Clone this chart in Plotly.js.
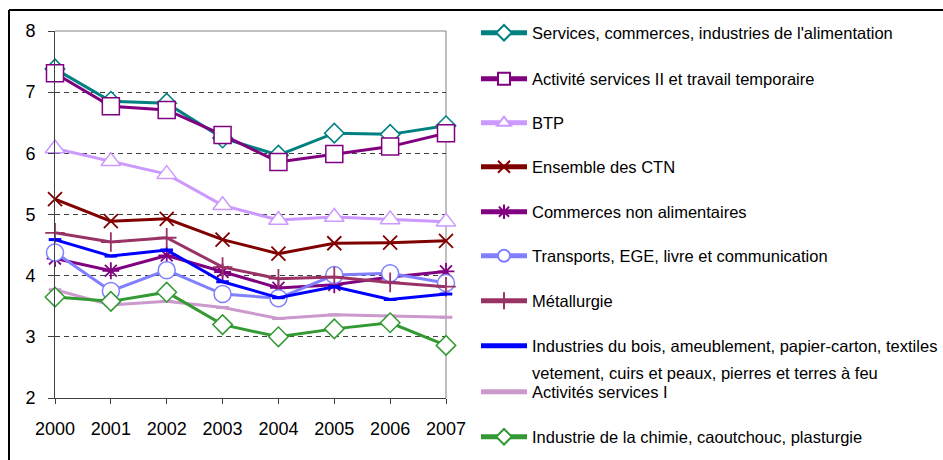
<!DOCTYPE html>
<html>
<head>
<meta charset="utf-8">
<script src="https://cdn.plot.ly/plotly-3.0.1.min.js"></script>
<style>
html,body{margin:0;padding:0;background:#fff;}
#chart{width:943px;height:460px;}
</style>
</head>
<body>
<div id="chart"></div>
<script>
const years = [2000, 2001, 2002, 2003, 2004, 2005, 2006, 2007];
const yTicks = [2, 3, 4, 5, 6, 7, 8];

const names = [
  "Services, commerces, industries de l'alimentation",
  "Activité services II et travail temporaire",
  "BTP",
  "Ensemble des CTN",
  "Commerces non alimentaires",
  "Transports, EGE, livre et communication",
  "Métallurgie",
  "Industries du bois, ameublement, papier-carton, textiles",
  "Activités services I",
  "Industrie de la chimie, caoutchouc, plasturgie"
];
const boisLine2 = "vetement, cuirs et peaux, pierres et terres à feu";

const servicesAlim   = [7.38, 6.85, 6.82, 6.25, 5.97, 6.33, 6.31, 6.45];
const servicesII     = [7.31, 6.77, 6.71, 6.30, 5.86, 5.99, 6.11, 6.33];
const btp            = [6.08, 5.87, 5.66, 5.15, 4.91, 4.96, 4.92, 4.88];
const ensembleCTN    = [5.25, 4.89, 4.93, 4.59, 4.36, 4.53, 4.54, 4.57];
const commercesNonAl = [4.28, 4.08, 4.33, 4.06, 3.80, 3.85, 3.98, 4.07];
const transports     = [4.38, 3.75, 4.09, 3.70, 3.63, 4.01, 4.04, 3.88];
const metallurgie    = [4.70, 4.55, 4.62, 4.14, 3.95, 3.98, 3.89, 3.82];
const industriesBois = [4.59, 4.32, 4.42, 3.90, 3.64, 3.82, 3.61, 3.70];
const servicesI      = [3.77, 3.52, 3.58, 3.48, 3.30, 3.36, 3.34, 3.32];
const chimie         = [3.65, 3.58, 3.73, 3.20, 3.00, 3.13, 3.23, 2.86];

const series = [servicesAlim, servicesII, btp, ensembleCTN, commercesNonAl,
                transports, metallurgie, industriesBois, servicesI, chimie];
const colors = ['#008080', '#800080', '#CC99FF', '#800000', '#800080',
                '#8080FF', '#993366', '#0000FF', '#CC99CC', '#339933'];
const symbols = ['diamond', 'square', 'triangle-up', 'x-thin-open', 'asterisk-open',
                 'circle', 'cross-thin-open', 'line-ew-open', 'line-ew-open', 'diamond'];
const sizes = [15, 17, 17, 14, 14, 17, 14, 9, 9, 15];
const filled = [true, true, true, false, false, true, false, false, false, true];
// legend row centres (px from top)
const legendRows = [33, 79, 123, 167, 212, 256, 301, 346, 392, 437];

const FONT = 'Liberation Sans, Arial, sans-serif';
const L = 55, R = 446, T = 31, B = 398;
const W = R - L, H = B - T;
const px = v => (v - L) / W;
const py = v => (B - v) / H;

const legendKey = i => (i === 0 ? 'legend' : 'legend' + (i + 1));

const traces = series.map((vals, i) => ({
  x: years,
  y: vals,
  type: 'scatter',
  mode: 'lines+markers',
  name: names[i],
  legend: legendKey(i),
  cliponaxis: false,
  line: {color: colors[i], width: 3},
  marker: filled[i]
    ? {symbol: symbols[i], size: sizes[i], color: '#ffffff', line: {color: colors[i], width: 1.5}}
    : {symbol: symbols[i], size: sizes[i], color: colors[i], line: {color: colors[i], width: (symbols[i] === 'line-ew-open' ? 3 : 1.8)}}
}));

const layout = {
  width: 943,
  height: 460,
  margin: {l: L, r: 943 - R, t: T, b: 460 - B, pad: 0, autoexpand: false},
  paper_bgcolor: '#ffffff',
  plot_bgcolor: '#ffffff',
  font: {family: FONT, size: 16.5, color: '#000000'},
  showlegend: true,
  xaxis: {
    range: [2000, 2007],
    tickvals: years,
    ticktext: years.map(String),
    showline: true, linecolor: '#404040', linewidth: 1,
    ticks: 'outside', ticklen: 5, tickcolor: '#404040', tickwidth: 1,
    showgrid: false, zeroline: false,
    ticklabelstandoff: 9,
    tickfont: {family: FONT, size: 18, color: '#000'}
  },
  yaxis: {
    range: [2, 8],
    tickvals: yTicks,
    ticktext: yTicks.map(String),
    showline: true, linecolor: '#404040', linewidth: 1,
    ticks: 'outside', ticklen: 6, tickcolor: '#404040', tickwidth: 1,
    showgrid: true, gridcolor: '#404040', gridwidth: 1, griddash: '5px,4px',
    zeroline: false,
    ticklabelstandoff: 9,
    tickfont: {family: FONT, size: 18, color: '#000'}
  },
  shapes: [
    {type: 'line', xref: 'paper', yref: 'paper', x0: 0, x1: 1, y0: 1, y1: 1,
     line: {color: '#808080', width: 1}, layer: 'above'},
    {type: 'line', xref: 'paper', yref: 'paper', x0: 1, x1: 1, y0: 0, y1: 1,
     line: {color: '#808080', width: 1}, layer: 'below'},
    {type: 'line', xref: 'paper', yref: 'paper', x0: px(9), x1: px(9), y0: py(10), y1: py(470),
     line: {color: '#000000', width: 2}},
    {type: 'line', xref: 'paper', yref: 'paper', x0: px(9), x1: px(960), y0: py(10), y1: py(10),
     line: {color: '#000000', width: 2}}
  ],
  annotations: [
    {xref: 'paper', yref: 'paper', x: px(530), y: py(373), xanchor: 'left', yanchor: 'middle',
     text: boisLine2, showarrow: false,
     font: {family: FONT, size: 16.5, color: '#000'}}
  ]
};

legendRows.forEach((row, i) => {
  layout[legendKey(i)] = {
    x: px(476), y: py(row), xanchor: 'left', yanchor: 'middle',
    xref: 'paper', yref: 'paper',
    bgcolor: 'rgba(0,0,0,0)', borderwidth: 0,
    font: {family: FONT, size: 16.5, color: '#000000'},
    itemsizing: 'constant',
    itemwidth: 46
  };
});

Plotly.newPlot('chart', traces, layout, {displayModeBar: false, staticPlot: true});
</script>
</body>
</html>
